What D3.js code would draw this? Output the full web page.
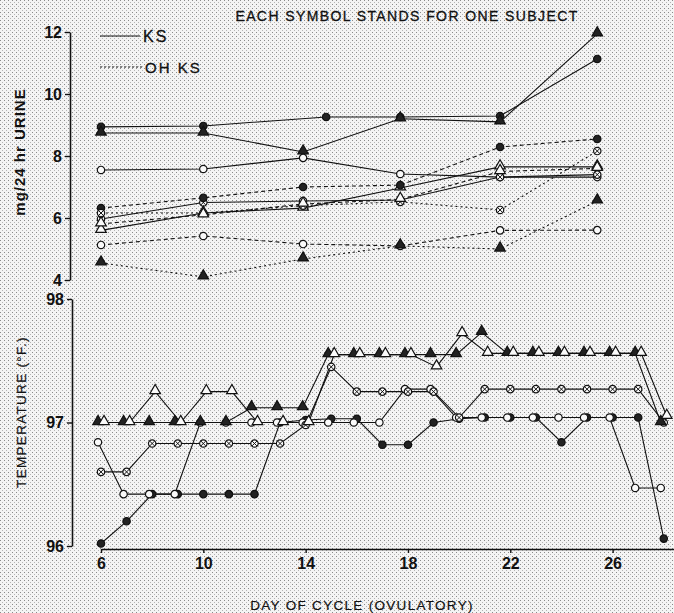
<!DOCTYPE html>
<html lang="en">
  <head>
    <meta charset="utf-8">
    <title>KS, OH KS and temperature</title>
    <script src="https://d3js.org/d3.v7.js"></script>
    <style>
      body { margin: 0; background: #fff; }
      text { font-family: "Liberation Sans", "DejaVu Sans", sans-serif; fill: #111; }
    </style>
  </head>

  <body>

  <script>

// Data

  // urine panel: days of collection
  var urineDays = [6, 10, 13.9, 17.7, 21.6, 25.4];
  var urineDaysA = [6, 10, 14.8, 17.7, 21.6, 25.4];

  // KS (solid lines), mg / 24 hr
  var ksFilledCircle = [8.94, 8.97, 9.26, 9.26, 9.29, 11.13];
  var ksFilledTri    = [8.74, 8.74, 8.13, 9.2, 9.1, 11.94];
  var ksOpenCircle   = [7.55, 7.58, 7.94, 7.42, 7.32, 7.32];
  var ksCross        = [5.97, 6.5, 6.55, 6.58, 7.32, 7.4];
  var ksOpenTri      = [5.6, 6.16, 6.32, 6.97, 7.65, 7.65];

  // OH KS (dashed lines), mg / 24 hr
  var ohFilledCircle = [6.32, 6.65, 7.0, 7.06, 8.29, 8.55];
  var ohOpenCircle   = [5.13, 5.42, 5.16, 5.1, 5.6, 5.61];
  var ohFilledTri    = [4.55, 4.1, 4.68, 5.1, 5.0, 6.55];
  var ohCross        = [6.16, 6.16, 6.4, 6.52, 6.26, 8.16];
  var ohOpenTri      = [5.81, 6.1, 6.45, 6.6, 7.5, 7.6];

  // temperature panel: daily readings, deg F
  var tempDays = [6, 7, 8, 9, 10, 11, 12, 13, 14, 15, 16, 17, 18, 19, 20, 21, 22, 23, 24, 25, 26, 27, 28];
  var tOpenTri    = [97.0, 97.0, 97.25, 97.0, 97.25, 97.25, 97.0, 97.0, 97.0, 97.55, 97.55, 97.55, 97.55, 97.45, 97.72, 97.56, 97.56, 97.56, 97.56, 97.56, 97.56, 97.56, 97.05];
  var tFilledTri  = [97.0, 97.0, 97.0, 97.0, 97.0, 97.0, 97.12, 97.12, 97.12, 97.55, 97.55, 97.55, 97.55, 97.55, 97.55, 97.73, 97.56, 97.56, 97.56, 97.56, 97.56, 97.56, 97.0];
  var tOpenCircle = [96.84, 96.42, 96.42, 96.42, 97.0, 97.0, 97.0, 97.0, 97.0, 97.0, 97.0, 97.0, 97.27, 97.27, 97.04, 97.04, 97.04, 97.04, 97.04, 97.04, 97.04, 96.47, 96.47];
  var tCross      = [96.6, 96.6, 96.83, 96.83, 96.83, 96.83, 96.83, 96.83, 96.98, 97.45, 97.25, 97.25, 97.25, 97.25, 97.04, 97.27, 97.27, 97.27, 97.27, 97.27, 97.27, 97.27, 97.0];
  var tFilledCircle = [96.02, 96.2, 96.42, 96.42, 96.42, 96.42, 96.42, 97.0, 97.02, 97.03, 97.03, 96.82, 96.82, 97.0, 97.03, 97.04, 97.04, 97.04, 96.84, 97.04, 97.04, 97.04, 96.06];

  var dayTicks = [6, 10, 14, 18, 22, 26];
  var urineTicks = [4, 6, 8, 10, 12];
  var tempTicks = [96, 97, 98];

// Layout

  var w = 674;
  var h = 613;

  var svg = d3.select("body")
    .append("svg")
      .attr("width", w)
      .attr("height", h);

  // halftone-ish paper
  var pat = svg.append("defs").append("pattern")
      .attr("id", "paper")
      .attr("width", 4)
      .attr("height", 4)
      .attr("patternUnits", "userSpaceOnUse");
  pat.append("rect").attr("width", 4).attr("height", 4).attr("fill", "#f4f4f4");
  pat.append("rect").attr("x", 0).attr("y", 0).attr("width", 1).attr("height", 1).attr("fill", "#8a8a8a");
  pat.append("rect").attr("x", 2).attr("y", 2).attr("width", 1).attr("height", 1).attr("fill", "#b5b5b5");

  svg.append("rect")
      .attr("width", w)
      .attr("height", h)
      .attr("fill", "url(#paper)");

  var xScale = d3.scaleLinear()
      .domain([6, 28.4])
      .range([101, 674]);

  var yUrine = d3.scaleLinear()
      .domain([4, 12])
      .range([280, 32]);

  var yTemp = d3.scaleLinear()
      .domain([96, 98])
      .range([546, 299]);

// Axes

  function styleAxis(g) {
    g.select(".domain").attr("stroke", "#111").attr("stroke-width", 1.6);
    g.selectAll(".tick line").attr("stroke", "#111").attr("stroke-width", 1.4);
    g.selectAll(".tick text")
        .attr("font-size", 16)
        .attr("font-weight", "bold")
        .attr("fill", "#111");
  }

  svg.append("g")
      .attr("transform", "translate(70, 0)")
      .call(d3.axisLeft(yUrine).tickValues(urineTicks).tickFormat(d3.format("d"))
        .tickSize(5).tickSizeOuter(0).tickPadding(3))
      .call(styleAxis);

  svg.append("g")
      .attr("transform", "translate(72, 0)")
      .call(d3.axisLeft(yTemp).tickValues(tempTicks).tickFormat(d3.format("d"))
        .tickSize(5).tickSizeOuter(0).tickPadding(3))
      .call(styleAxis);

  svg.append("g")
      .attr("transform", "translate(0, 549)")
      .call(d3.axisBottom(xScale).tickValues(dayTicks).tickFormat(d3.format("d"))
        .tickSize(4).tickSizeOuter(0).tickPadding(5))
      .call(styleAxis);

// Titles

  svg.append("text")
      .attr("x", 407)
      .attr("y", 21)
      .attr("text-anchor", "middle")
      .attr("font-size", 14)
      .attr("letter-spacing", 1.4)
      .attr("stroke", "#111")
      .attr("stroke-width", 0.3)
      .text("EACH SYMBOL STANDS FOR ONE SUBJECT");

  svg.append("text")
      .attr("transform", "translate(25, 152) rotate(-90)")
      .attr("text-anchor", "middle")
      .attr("font-size", 15)
      .attr("font-weight", "bold")
      .attr("letter-spacing", 1)
      .text("mg/24 hr URINE");

  svg.append("text")
      .attr("transform", "translate(26, 412) rotate(-90)")
      .attr("text-anchor", "middle")
      .attr("font-size", 13.5)
      .attr("letter-spacing", 1.3)
      .attr("stroke", "#111")
      .attr("stroke-width", 0.2)
      .text("TEMPERATURE (°F.)");

  svg.append("text")
      .attr("x", 362)
      .attr("y", 610)
      .attr("text-anchor", "middle")
      .attr("font-size", 13.5)
      .attr("letter-spacing", 1.3)
      .attr("stroke", "#111")
      .attr("stroke-width", 0.2)
      .text("DAY OF CYCLE (OVULATORY)");

// Legend

  var legend = svg.append("g");
  legend.append("line")
      .attr("x1", 100).attr("x2", 140).attr("y1", 36).attr("y2", 36)
      .attr("stroke", "#111").attr("stroke-width", 1.2);
  legend.append("text")
      .attr("x", 143).attr("y", 42)
      .attr("font-size", 16).attr("letter-spacing", 2)
      .attr("stroke", "#111").attr("stroke-width", 0.3)
      .text("KS");
  legend.append("line")
      .attr("x1", 100).attr("x2", 143).attr("y1", 67).attr("y2", 67)
      .attr("stroke", "#111").attr("stroke-width", 1.1)
      .attr("stroke-dasharray", "2,2");
  legend.append("text")
      .attr("x", 145).attr("y", 73)
      .attr("font-size", 15).attr("letter-spacing", 2)
      .attr("stroke", "#111").attr("stroke-width", 0.3)
      .text("OH  KS");

// Series

  var urineSeries = [
    {days: urineDaysA, vals: ksFilledCircle, sym: "fc", dash: null},
    {days: urineDays, vals: ksFilledTri, sym: "ft", dash: null},
    {days: urineDays, vals: ksOpenCircle, sym: "oc", dash: null},
    {days: urineDays, vals: ksCross, sym: "xc", dash: null},
    {days: urineDays, vals: ksOpenTri, sym: "ot", dash: null},
    {days: urineDays, vals: ohFilledCircle, sym: "fc", dash: "4,3"},
    {days: urineDays, vals: ohOpenCircle, sym: "oc", dash: "4,3"},
    {days: urineDays, vals: ohFilledTri, sym: "ft", dash: "2,3"},
    {days: urineDays, vals: ohCross, sym: "xc", dash: "2,3"},
    {days: urineDays, vals: ohOpenTri, sym: "ot", dash: "4,3"}
  ];

  var tempSeries = [
    {vals: tFilledCircle, sym: "fc", dodge: 0},
    {vals: tOpenCircle, sym: "oc", dodge: -3},
    {vals: tCross, sym: "xc", dodge: 0},
    {vals: tFilledTri, sym: "ft", dodge: -3},
    {vals: tOpenTri, sym: "ot", dodge: 3}
  ];

  var tri = d3.symbol().type(d3.symbolTriangle).size(48);

  function drawSymbol(g, sym, cx, cy) {
    var s = g.append("g").attr("transform", "translate(" + cx + "," + cy + ")");
    if (sym == "fc" || sym == "oc" || sym == "xc") {
      s.append("circle")
          .attr("r", 3.7)
          .attr("fill", sym == "fc" ? "#222" : "#fafafa")
          .attr("stroke", "#111")
          .attr("stroke-width", 1.2);
      if (sym == "xc") {
        s.append("path")
            .attr("d", "M-2.4,-2.4L2.4,2.4M-2.4,2.4L2.4,-2.4")
            .attr("stroke", "#111")
            .attr("stroke-width", 1);
      }
    } else {
      s.append("path")
          .attr("d", tri())
          .attr("transform", "translate(0,-1)")
          .attr("fill", sym == "ft" ? "#222" : "#fafafa")
          .attr("stroke", "#111")
          .attr("stroke-width", 1.2);
    }
  }

  var plotUrine = svg.append("g").attr("id", "urine");

  urineSeries.forEach(function (s) {
    var pts = s.vals.map((v, i) => ({day: s.days[i], v: v}));
    plotUrine.append("path")
        .datum(pts)
        .attr("fill", "none")
        .attr("stroke", "#111")
        .attr("stroke-width", 1.1)
        .attr("stroke-dasharray", s.dash)
        .attr("d", d3.line().x(d => xScale(d.day)).y(d => yUrine(d.v)));
  });
  urineSeries.forEach(function (s) {
    s.vals.forEach(function (v, i) {
      drawSymbol(plotUrine, s.sym, xScale(s.days[i]), yUrine(v));
    });
  });

  var plotTemp = svg.append("g").attr("id", "temp");

  tempSeries.forEach(function (s) {
    var pts = s.vals.map((v, i) => ({day: tempDays[i], v: v}));
    plotTemp.append("path")
        .datum(pts)
        .attr("fill", "none")
        .attr("stroke", "#111")
        .attr("stroke-width", 1.1)
        .attr("d", d3.line().x(d => xScale(d.day) + s.dodge).y(d => yTemp(d.v)));
  });
  tempSeries.forEach(function (s) {
    s.vals.forEach(function (v, i) {
      drawSymbol(plotTemp, s.sym, xScale(tempDays[i]) + s.dodge, yTemp(v));
    });
  });

    </script>

  </body>

</html>
